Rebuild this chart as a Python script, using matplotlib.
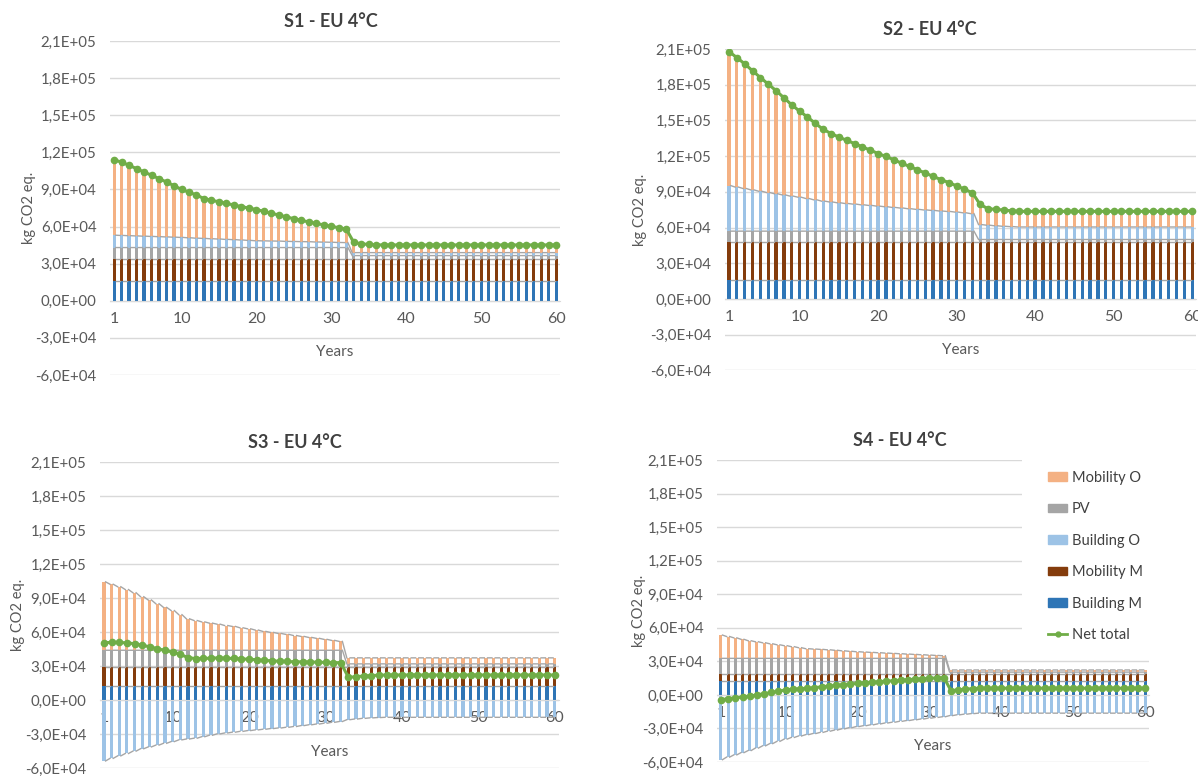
import matplotlib
matplotlib.use('Agg')
from matplotlib import pyplot as plt
from matplotlib.patches import Patch, Rectangle
from matplotlib.lines import Line2D
from matplotlib.transforms import blended_transform_factory
import numpy as np

plt.rcParams['font.family'] = ['Lato', 'DejaVu Sans']

years = np.arange(1, 61)
x_tick_years = [1, 10, 20, 30, 40, 50, 60]
y_ticks = [-60000, -30000, 0, 30000, 60000, 90000, 120000, 150000, 180000, 210000]

# stacking order, bottom to top
labels = ['Building M', 'Mobility M', 'PV', 'Building O', 'Mobility O']
colors = ['#2E75B6', '#843C0C', '#A5A5A5', '#9DC3E6', '#F4B183']
legend_order = ['Mobility O', 'PV', 'Building O', 'Mobility M', 'Building M']
net_color = '#70AD47'

# values in 1000 kg CO2 eq. per year
s1_building_m = [16.0] * 60
s1_mobility_m = [17.5] * 60
s1_pv = [9.5] * 32 + [3.0] * 28
s1_building_o = [10.0, 9.8, 9.6, 9.4, 9.2, 9.0, 8.8, 8.6, 8.4, 8.2,
                 7.9, 7.6, 7.4, 7.1, 6.9, 6.6, 6.4, 6.1, 5.8, 5.5,
                 5.4, 5.3, 5.2, 5.0, 4.9, 4.8, 4.7, 4.5, 4.4, 4.3, 4.1, 4.0] + [2.4] * 28
s1_mobility_o = [61.0, 59.2, 56.9, 54.4, 51.8, 49.5, 46.9, 44.4, 41.6, 38.8,
                 36.8, 34.9, 32.1, 31.1, 30.1, 29.1, 28.0, 27.0, 26.1, 25.2,
                 23.8, 22.4, 21.1, 19.8, 18.4, 17.2, 16.0, 15.0, 13.9, 12.9, 11.9, 10.8,
                 8.3, 7.1, 6.6, 6.3] + [6.2] * 24

s2_building_m = [16.0] * 60
s2_mobility_m = [31.5] * 60
s2_pv = [9.5] * 32 + [2.5] * 28
s2_building_o = [38.3, 37.0, 35.8, 34.6, 33.5, 32.4, 31.4, 30.4, 29.4, 28.5,
                 27.4, 26.3, 25.2, 24.5, 23.8, 23.2, 22.7, 22.1, 21.6, 21.0,
                 20.5, 19.9, 19.4, 18.8, 18.3, 17.8, 17.4, 16.9, 16.5, 16.0, 15.4, 14.7,
                 12.5, 12.0, 11.5, 11.1, 10.8] + [10.5] * 23
s2_mobility_o = [112.5, 108.8, 104.7, 100.1, 95.5, 91.1, 86.6, 81.6, 76.6, 72.3,
                 68.4, 64.2, 60.3, 57.5, 55.2, 53.1, 50.8, 48.7, 46.4, 44.2,
                 42.2, 40.1, 37.6, 35.6, 33.3, 31.0, 28.6, 26.4, 24.3, 22.0, 19.8, 17.5,
                 16.9, 13.8, 13.8, 13.6, 13.2] + [13.1] * 23

s3_building_m = [12.5] * 60
s3_mobility_m = [17.0] * 60
s3_pv = [14.5] * 32 + [2.5] * 28
s3_building_o = [-53.6, -51.3, -49.1, -47.0, -44.9, -42.8, -41.2, -39.6, -38.0, -36.5,
                 -35.0, -34.2, -33.5, -32.2, -30.9, -29.7, -28.9, -28.2, -27.5, -26.8,
                 -26.2, -25.6, -25.0, -24.5, -23.9, -23.2, -22.4, -21.7, -21.0, -20.3, -19.5, -18.8,
                 -17.2, -16.6, -16.0, -15.6, -15.3] + [-15.1] * 23
s3_mobility_o = [60.3, 58.2, 56.0, 53.5, 50.7, 47.2, 44.3, 41.0, 37.8, 35.0,
                 31.4, 27.7, 26.2, 25.0, 23.9, 23.0, 21.8, 21.0, 19.8, 18.9,
                 17.8, 16.6, 15.7, 14.8, 14.0, 13.0, 12.2, 11.3, 10.5, 9.6, 8.7, 7.8] + [5.3] * 28

s4_building_m = [12.5] * 60
s4_mobility_m = [5.9] * 60
s4_pv = [14.3] * 32 + [2.0] * 28
s4_building_o = [-57.9, -55.6, -53.6, -51.6, -49.7, -47.5, -45.5, -43.5, -41.5, -39.5,
                 -38.0, -36.7, -35.5, -34.5, -33.5, -32.4, -31.4, -30.3, -29.3, -28.3,
                 -27.5, -26.7, -25.9, -25.1, -24.4, -23.6, -22.9, -22.2, -21.5, -20.8, -20.1, -19.5,
                 -18.5, -17.8, -17.2, -16.7] + [-16.3] * 24
s4_mobility_o = [20.8, 19.5, 18.3, 17.0, 15.7, 14.8, 13.9, 13.0, 12.1, 11.3,
                 10.4, 9.5, 8.6, 8.3, 8.0, 7.6, 7.2, 6.7, 6.3, 5.9,
                 5.6, 5.3, 5.0, 4.7, 4.4, 4.1, 3.8, 3.5, 3.2, 2.9, 2.6, 2.3] + [1.9] * 28


def sci_comma(v, pos=None):
    return ('%.1E' % v).replace('.', ',')


def draw_panel(ax, series, title, title_x):
    w = 0.42
    pos_base = np.zeros(len(years))
    neg_base = np.zeros(len(years))
    net = np.zeros(len(years))
    for vals, color in zip(series, colors):
        v = np.array(vals) * 1000.0
        base = np.where(v >= 0, pos_base, neg_base)
        ax.bar(years, v, width=w, bottom=base, color=color, linewidth=0, zorder=2)
        ends = base + v
        # series lines between neighbouring bars
        xs, ys = [], []
        for i in range(len(years) - 1):
            xs += [years[i] + w / 2, years[i + 1] - w / 2, np.nan]
            ys += [ends[i], ends[i + 1], np.nan]
        ax.plot(xs, ys, color='#A6A6A6', lw=1.0, zorder=3)
        pos_base = np.where(v >= 0, ends, pos_base)
        neg_base = np.where(v < 0, ends, neg_base)
        net += v
    ax.plot(years, net, color=net_color, lw=2.2, marker='o', markersize=4.5, zorder=4)

    ax.set_xlim(0.5, 60.5)
    ax.set_ylim(-60000, 210000)
    ax.set_yticks(y_ticks)
    ax.yaxis.set_major_formatter(plt.FuncFormatter(sci_comma))
    ax.set_xticks(x_tick_years)
    ax.grid(axis='y', color='#D9D9D9', lw=1.0)
    ax.set_axisbelow(True)
    for s in ['top', 'right', 'left']:
        ax.spines[s].set_visible(False)
    ax.spines['bottom'].set_position(('data', 0))
    ax.spines['bottom'].set_color('#D9D9D9')
    ax.tick_params(axis='both', length=0, labelcolor='#595959')
    ax.tick_params(axis='x', pad=8, labelsize=11.5)
    ax.tick_params(axis='y', pad=10, labelsize=10.8)
    ax.set_title(title, fontsize=13, fontweight='bold', color='#404040', pad=10, x=title_x)
    ax.set_ylabel('kg CO2 eq.', fontsize=10.5, color='#595959')
    ax.yaxis.set_label_coords(-0.165, 0.5)
    tr = blended_transform_factory(ax.transAxes, ax.transData)
    ax.annotate('Years', xy=(0.5, 0), xycoords=tr, xytext=(0, -37), textcoords='offset points',
                ha='center', va='center', fontsize=11, color='#595959')


fig = plt.figure(figsize=(11.98, 7.76), dpi=100)
ax1 = fig.add_axes([0.0921, 0.5168, 0.3752, 0.4304])
ax2 = fig.add_axes([0.6052, 0.5226, 0.3932, 0.4143])
ax3 = fig.add_axes([0.0836, 0.0100, 0.3826, 0.3947])
ax4 = fig.add_axes([0.5988, 0.0180, 0.3601, 0.3892])

draw_panel(ax1, [s1_building_m, s1_mobility_m, s1_pv, s1_building_o, s1_mobility_o], 'S1 - EU 4°C', 0.49)
draw_panel(ax2, [s2_building_m, s2_mobility_m, s2_pv, s2_building_o, s2_mobility_o], 'S2 - EU 4°C', 0.435)
draw_panel(ax3, [s3_building_m, s3_mobility_m, s3_pv, s3_building_o, s3_mobility_o], 'S3 - EU 4°C', 0.425)
draw_panel(ax4, [s4_building_m, s4_mobility_m, s4_pv, s4_building_o, s4_mobility_o], 'S4 - EU 4°C', 0.424)

# white legend area sitting over the upper gridlines of S4
fig.add_artist(Rectangle((0.853, 0.1688), 0.147, 0.251, transform=fig.transFigure,
                         facecolor='white', edgecolor='none', zorder=5))

handles = [Patch(color=colors[labels.index(n)]) for n in legend_order]
handles.append(Line2D([], [], color=net_color, lw=2, marker='o', markersize=3.5))
leg = fig.legend(handles, legend_order + ['Net total'], loc='upper left',
                 bbox_to_anchor=(0.869, 0.403), frameon=False, fontsize=10.5,
                 labelspacing=1.2, handlelength=1.3, handleheight=0.5,
                 handletextpad=0.3, borderpad=0.0)
leg.set_zorder(10)
for t in leg.get_texts():
    t.set_color('#404040')

fig.savefig('out.png', dpi=100)
